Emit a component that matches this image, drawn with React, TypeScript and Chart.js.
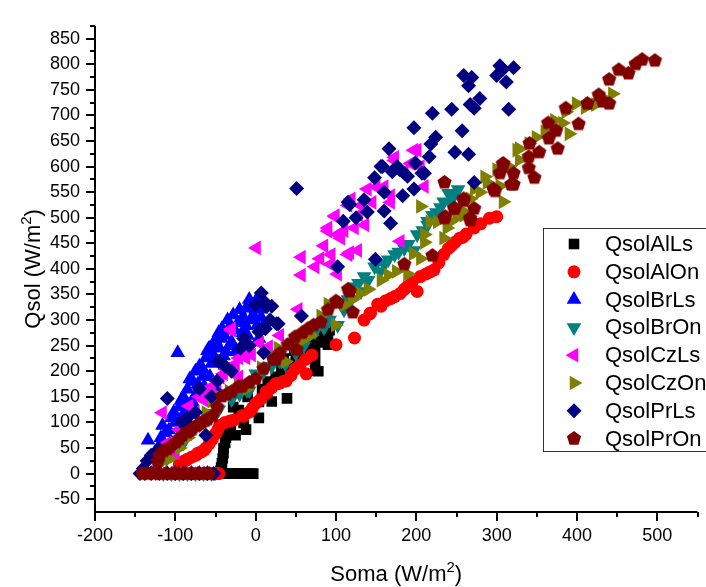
import React, { useEffect, useRef } from 'react';
import { Chart, registerables } from 'chart.js';

Chart.register(...registerables);

// ---- data (x = Soma, y = Qsol) ----
const xTicks = [-200, -100, 0, 100, 200, 300, 400, 500];
const yTicks = [-50, 0, 50, 100, 150, 200, 250, 300, 350, 400, 450, 500, 550, 600, 650, 700, 750, 800, 850];

const qsolAlLs: [number, number][] = [
  [-42, 0], [-38, 0], [-34, 0], [-30, 0], [-26, 0], [-22, 0], [-18, 0], [-14, 0], [-10, 0], [-6, 0], [-3, 0],
  [-44, 5], [-43, 12], [-42, 20], [-41, 30], [-40, 40], [-40, 50], [-38, 60], [-37, 70], [-36, 78], [-35, 85], [-33, 95],
  [-31, 86], [-25, 75], [-21, 124], [-17, 118], [-15, 99], [-12, 86], [4, 109], [4, 140], [20, 141], [25, 189], [28, 176],
  [32, 201], [39, 147], [41, 195], [41, 214], [45, 210], [50, 225], [55, 232], [62, 226], [62, 239], [68, 245], [74, 201],
  [74, 219], [74, 239], [78, 200], [78, 257], [81, 257], [81, 276], [84, 262], [88, 270], [90, 252], [90, 264], [92, 280], [86, 275],
  [-28, 130], [-10, 150], [8, 165], [15, 180], [35, 225], [58, 250], [66, 262], [48, 240],
];
const qsolAlOn: [number, number][] = [
  [-100, 0], [-95, 0], [-90, 0], [-85, 0], [-80, 0], [-75, 0], [-70, 0], [-65, 0], [-60, 0], [-55, 0], [-50, 0], [-46, 0],
  [-91, 23], [-85, 28], [-80, 32], [-74, 36], [-68, 42], [-62, 50], [-58, 58], [-54, 67], [-50, 78], [-47, 86], [-45, 94],
  [-38, 100], [-32, 103], [-27, 105], [-17, 113], [-15, 112], [-8, 120], [0, 137], [6, 145], [13, 160], [14, 157], [20, 168],
  [25, 176], [28, 176], [34, 180], [38, 181], [49, 204], [55, 212], [62, 223], [63, 195], [70, 232], [100, 252], [123, 265],
  [135, 300], [142, 312], [143, 314], [152, 331], [156, 327], [162, 338], [173, 346], [180, 352], [185, 360], [189, 366],
  [195, 375], [201, 356], [205, 385], [212, 390], [222, 398], [228, 412], [234, 428], [240, 440], [248, 452], [254, 460],
  [262, 468], [272, 480], [280, 488], [291, 499], [300, 502],
  [-95, 18], [-88, 25], [-72, 40], [-64, 46], [-4, 128], [44, 192], [168, 342], [217, 394], [244, 446], [258, 462],
];
const qsolBrLs: [number, number][] = [
  [-130, 0], [-120, 0], [-110, 0], [-100, 0], [-90, 0], [-80, 0], [-70, 0], [-60, 0],
  [-134, 65], [-126, 40], [-120, 55], [-116, 94], [-112, 80], [-105, 109], [-104, 109], [-100, 100], [-97, 236], [-95, 130],
  [-93, 143], [-90, 150], [-88, 120], [-85, 165], [-80, 140], [-79, 141], [-78, 180], [-75, 200], [-72, 175], [-70, 210],
  [-68, 160], [-65, 190], [-62, 226], [-60, 240], [-58, 245], [-55, 215], [-54, 251], [-50, 260], [-49, 166], [-49, 219],
  [-46, 275], [-43, 264], [-42, 283], [-40, 230], [-37, 238], [-35, 300], [-33, 286], [-30, 257], [-28, 310], [-25, 238],
  [-22, 295], [-20, 320], [-15, 305], [-12, 289], [-12, 323], [-10, 270], [-8, 340], [-5, 327], [-3, 310], [0, 321],
  [0, 337], [3, 257], [4, 264], [5, 345], [7, 305], [7, 321], [10, 290],
  [-128, 30], [-118, 70], [-108, 85], [-102, 120], [-92, 110], [-86, 135], [-82, 185], [-76, 150], [-66, 205], [-64, 170],
  [-57, 190], [-52, 230], [-45, 245], [-39, 270], [-32, 250], [-26, 280], [-18, 300], [-16, 275], [-6, 300], [2, 290],
];
const qsolBrOn: [number, number][] = [
  [-115, 0], [-105, 0], [-95, 0], [-85, 0], [-75, 0], [-65, 0], [-55, 0],
  [-111, 30], [-100, 45], [-90, 60], [-80, 80], [-70, 95], [-60, 110], [-46, 125], [-30, 145], [-11, 163], [-8, 162],
  [0, 195], [10, 200], [20, 210], [37, 214], [50, 235], [60, 250], [74, 277], [85, 285], [102, 290], [110, 320],
  [115, 340], [119, 340], [123, 365], [131, 356], [140, 378], [148, 404], [155, 395], [160, 409], [173, 428], [185, 440],
  [197, 436], [201, 467], [208, 475], [214, 486], [214, 493], [225, 510], [230, 520], [234, 531], [242, 530], [247, 543], [240, 548],
  [-120, 20], [-105, 38], [-52, 118], [-20, 155], [30, 220], [92, 300], [128, 372], [135, 385], [165, 418], [178, 433],
  [190, 448], [220, 505], [252, 555],
];
const qsolCzLs: [number, number][] = [
  [-105, 0], [-95, 0], [-85, 0], [-75, 0], [-65, 0], [-55, 0],
  [-116, 119], [-110, 60], [-100, 40], [-95, 86], [-90, 100], [-83, 132], [-75, 120], [-70, 150], [-64, 143], [-55, 170],
  [-48, 180], [-40, 195], [-37, 204], [-33, 207], [-30, 280], [-30, 283], [-25, 214], [-21, 189], [-21, 226], [-12, 226],
  [-5, 232], [1, 441], [16, 245], [16, 248], [30, 270], [53, 321], [57, 388], [57, 423], [74, 404], [90, 474], [90, 480],
  [93, 409], [94, 428], [99, 502], [99, 504], [102, 390], [102, 467], [106, 460], [115, 428], [115, 524], [117, 432],
  [119, 537], [123, 480], [127, 436], [131, 524], [136, 486], [139, 556], [160, 561], [168, 530], [168, 543], [173, 612],
  [173, 618], [180, 454], [193, 606], [197, 632], [201, 632], [210, 561],
  [-60, 160], [-44, 188], [-15, 240], [5, 255], [80, 420], [85, 445], [110, 475], [128, 505], [145, 530], [150, 560],
  [185, 590], [205, 600],
];
const qsolCzOn: [number, number][] = [
  [-120, 0], [-110, 0], [-100, 0], [-90, 0], [-80, 0], [-70, 0], [-60, 0],
  [-120, 20], [-107, 29], [-95, 50], [-85, 70], [-75, 90], [-62, 119], [-54, 142], [-45, 150], [-33, 161], [-11, 166],
  [7, 204], [7, 207], [20, 230], [28, 245], [37, 219], [50, 255], [69, 270], [81, 308], [90, 331], [99, 290], [120, 340],
  [140, 360], [156, 378], [175, 395], [189, 390], [205, 420], [205, 522], [210, 452], [210, 467], [217, 492], [226, 492],
  [234, 460], [238, 480], [242, 492], [259, 505], [259, 512], [267, 537], [272, 556], [279, 550], [288, 569], [300, 594],
  [304, 562], [308, 531], [325, 632], [328, 613], [328, 635], [349, 657], [382, 685], [386, 707], [390, 664], [399, 723],
  [423, 721], [444, 742],
  [-22, 172], [60, 262], [110, 330], [130, 352], [165, 388], [196, 430], [250, 500], [285, 580], [315, 600], [340, 645],
  [360, 668], [372, 690], [410, 715], [432, 735],
];
const qsolPrLs: [number, number][] = [
  [-144, 0], [-138, 0], [-130, 0], [-120, 0], [-110, 0], [-100, 0], [-90, 0], [-80, 0], [-70, 0], [-60, 0], [-52, 0],
  [-140, 10], [-135, 25], [-130, 36], [-120, 48], [-110, 147], [-100, 60], [-85, 109], [-80, 90], [-70, 166], [-62, 75],
  [-55, 150], [-48, 181], [-46, 219], [-30, 200], [-19, 245], [-15, 264], [4, 277], [6, 280], [7, 353], [10, 236],
  [12, 283], [12, 334], [14, 327], [20, 327], [26, 293], [28, 293], [51, 557], [57, 308], [102, 404], [109, 493],
  [115, 530], [117, 526], [139, 511], [148, 578], [149, 419], [156, 600], [158, 600], [160, 513], [160, 550], [166, 635],
  [168, 489], [179, 594], [183, 543], [185, 587], [189, 581], [197, 556], [197, 676], [199, 607], [207, 587], [210, 587],
  [216, 619], [218, 644], [220, 704], [224, 657], [244, 712], [248, 628], [257, 670], [259, 778], [265, 624], [265, 758],
  [267, 721], [269, 774], [272, 569], [272, 714], [279, 733], [300, 778], [304, 797], [308, 790], [312, 765], [315, 712], [321, 793],
  [-125, 40], [-92, 100], [-75, 120], [-38, 210], [-8, 250], [0, 330], [18, 300], [125, 500], [135, 535], [170, 590], [176, 600],
];
const qsolPrOn: [number, number][] = [
  [-141, 0], [-135, 0], [-128, 0], [-120, 0], [-112, 0], [-104, 0], [-96, 0], [-88, 0], [-80, 0], [-72, 0], [-64, 0], [-58, 0],
  [-122, 23], [-120, 36], [-115, 44], [-107, 52], [-99, 62], [-91, 75], [-85, 81], [-79, 87], [-73, 94], [-67, 100],
  [-60, 106], [-54, 112], [-48, 130], [-42, 151], [-30, 160], [-21, 170], [-17, 170], [0, 185], [10, 205], [22, 223],
  [25, 223], [40, 252], [49, 267], [51, 242], [65, 283], [72, 290], [81, 296], [100, 337], [102, 334], [115, 360],
  [117, 356], [121, 315], [185, 409], [220, 426], [235, 499], [235, 569], [236, 502], [247, 518], [248, 518], [259, 533],
  [259, 537], [267, 495], [267, 499], [272, 518], [296, 556], [298, 552], [304, 587], [308, 604], [308, 606], [318, 565],
  [321, 565], [321, 587], [340, 597], [340, 619], [341, 645], [347, 578], [353, 628], [364, 685], [365, 655], [374, 670],
  [376, 635], [386, 714], [402, 683], [413, 723], [427, 740], [432, 727], [440, 723], [440, 770], [452, 789], [464, 782],
  [473, 800], [481, 809], [497, 807],
  [-110, 48], [-95, 68], [-82, 84], [-70, 97], [-63, 103], [-36, 155], [-8, 178], [30, 235], [58, 275], [90, 320],
];

const seriesLabels = ['QsolAlLs', 'QsolAlOn', 'QsolBrLs', 'QsolBrOn', 'QsolCzLs', 'QsolCzOn', 'QsolPrLs', 'QsolPrOn'];
const seriesData = [qsolAlLs, qsolAlOn, qsolBrLs, qsolBrOn, qsolCzLs, qsolCzOn, qsolPrLs, qsolPrOn];

// ---- styles ----
const FONT = "'Liberation Sans', Arial, Helvetica, sans-serif";
const markerStyles = [
  { color: '#000000', shape: 'rect', radius: 7.5, rotation: 0 },
  { color: '#ff0000', shape: 'circle', radius: 6.5, rotation: 0 },
  { color: '#0000ff', shape: 'triangle', radius: 8.5, rotation: 0 },
  { color: '#008080', shape: 'triangle', radius: 8.5, rotation: 180 },
  { color: '#ff00ff', shape: 'triangle', radius: 8.5, rotation: -90 },
  { color: '#808000', shape: 'triangle', radius: 8.5, rotation: 90 },
  { color: '#000080', shape: 'rectRot', radius: 7.5, rotation: 0 },
  { color: '#800000', shape: 'pentagon', radius: 7.5, rotation: 0 },
];

function makePentagon(color: string, r: number): HTMLCanvasElement {
  const s = Math.ceil(r * 2 + 2);
  const c = document.createElement('canvas');
  c.width = s;
  c.height = s;
  const ctx = c.getContext('2d')!;
  ctx.fillStyle = color;
  ctx.beginPath();
  for (let i = 0; i < 5; i++) {
    const a = -Math.PI / 2 + (i * 2 * Math.PI) / 5;
    ctx.lineTo(s / 2 + r * Math.cos(a), s / 2 + r * Math.sin(a));
  }
  ctx.closePath();
  ctx.fill();
  return c;
}

function drawMarker(ctx: CanvasRenderingContext2D, shape: string, x: number, y: number, r: number, rot: number, color: string) {
  ctx.save();
  ctx.fillStyle = color;
  ctx.beginPath();
  if (shape === 'circle') {
    ctx.arc(x, y, r, 0, Math.PI * 2);
  } else if (shape === 'rect') {
    const s = r * Math.SQRT1_2;
    ctx.rect(x - s, y - s, 2 * s, 2 * s);
  } else if (shape === 'rectRot') {
    ctx.moveTo(x, y - r);
    ctx.lineTo(x + r, y);
    ctx.lineTo(x, y + r);
    ctx.lineTo(x - r, y);
  } else if (shape === 'triangle') {
    let rad = (rot * Math.PI) / 180;
    for (let i = 0; i < 3; i++) {
      ctx.lineTo(x + Math.sin(rad) * r, y - Math.cos(rad) * r);
      rad += (2 * Math.PI) / 3;
    }
  } else if (shape === 'pentagon') {
    for (let i = 0; i < 5; i++) {
      const a = -Math.PI / 2 + (i * 2 * Math.PI) / 5;
      ctx.lineTo(x + r * Math.cos(a), y + r * Math.sin(a));
    }
  }
  ctx.closePath();
  ctx.fill();
  ctx.restore();
}

function drawTitle(ctx: CanvasRenderingContext2D, main: string, tail: string, cx: number, baseY: number) {
  ctx.font = `22px ${FONT}`;
  const w1 = ctx.measureText(main).width;
  const w3 = ctx.measureText(tail).width;
  ctx.font = `15px ${FONT}`;
  const w2 = ctx.measureText('2').width;
  const total = w1 + w2 + w3;
  let x = cx - total / 2;
  ctx.fillStyle = '#000';
  ctx.textBaseline = 'alphabetic';
  ctx.textAlign = 'left';
  ctx.font = `22px ${FONT}`;
  ctx.fillText(main, x, baseY);
  x += w1;
  ctx.font = `15px ${FONT}`;
  ctx.fillText('2', x, baseY - 9);
  x += w2;
  ctx.font = `22px ${FONT}`;
  ctx.fillText(tail, x, baseY);
}

const decorPlugin = {
  id: 'decor',
  afterDraw(chart: any) {
    const ctx: CanvasRenderingContext2D = chart.ctx;
    const xs = chart.scales.x;
    const ys = chart.scales.y;
    const area = chart.chartArea;
    ctx.save();
    ctx.strokeStyle = '#000';
    ctx.lineWidth = 2;
    ctx.beginPath();
    ctx.moveTo(area.left, area.top);
    ctx.lineTo(area.left, area.bottom + 1);
    ctx.moveTo(area.left - 1, area.bottom);
    ctx.lineTo(area.right, area.bottom);
    ctx.stroke();
    ctx.beginPath();
    for (const v of xTicks) {
      const px = Math.round(xs.getPixelForValue(v));
      ctx.moveTo(px, area.bottom);
      ctx.lineTo(px, area.bottom + 9);
    }
    for (let v = xs.min + 50; v <= xs.max; v += 100) {
      const px = Math.round(xs.getPixelForValue(v));
      ctx.moveTo(px, area.bottom);
      ctx.lineTo(px, area.bottom + 5);
    }
    for (const v of yTicks) {
      const py = Math.round(ys.getPixelForValue(v));
      ctx.moveTo(area.left, py);
      ctx.lineTo(area.left - 9, py);
    }
    for (let v = ys.min + 50; v <= ys.max; v += 50) {
      const py = Math.round(ys.getPixelForValue(v));
      ctx.moveTo(area.left, py);
      ctx.lineTo(area.left - 5, py);
    }
    ctx.stroke();

    drawTitle(ctx, 'Soma (W/m', ')', (area.left + area.right) / 2, 581);
    ctx.save();
    ctx.translate(40, (area.top + area.bottom) / 2);
    ctx.rotate(-Math.PI / 2);
    drawTitle(ctx, 'Qsol (W/m', ')', 0, 0);
    ctx.restore();

    const lx = 543.5;
    const ly = 228.5;
    ctx.fillStyle = '#fff';
    ctx.fillRect(lx, ly, 200, 223);
    ctx.strokeStyle = '#333';
    ctx.lineWidth = 1;
    ctx.strokeRect(lx, ly, 200, 223);
    ctx.font = `22px ${FONT}`;
    ctx.textBaseline = 'middle';
    ctx.textAlign = 'left';
    seriesLabels.forEach((label, i) => {
      const cy = 244 + i * 27.8;
      const st = markerStyles[i];
      drawMarker(ctx, st.shape, 574, cy, st.radius, st.rotation, st.color);
      ctx.fillStyle = '#000';
      ctx.fillText(label, 605, cy + 1);
    });
    ctx.restore();
  },
};

export default function App() {
  const canvasRef = useRef<HTMLCanvasElement | null>(null);

  useEffect(() => {
    const canvas = canvasRef.current;
    if (!canvas) return;
    const datasets = seriesLabels.map((label, i) => {
      const st = markerStyles[i];
      return {
        label,
        data: seriesData[i].map(([x, y]) => ({ x, y })),
        pointStyle: st.shape === 'pentagon' ? makePentagon(st.color, st.radius) : st.shape,
        pointRadius: st.radius,
        pointRotation: st.rotation,
        pointBackgroundColor: st.color,
        pointBorderColor: st.color,
        pointBorderWidth: 0,
        pointHoverRadius: st.radius,
        showLine: false,
        order: seriesLabels.length - i,
      };
    });
    const chart = new Chart(canvas, {
      type: 'scatter',
      data: { datasets } as any,
      options: {
        responsive: false,
        animation: false,
        events: [],
        layout: { padding: { left: 0, top: 12, right: 4, bottom: 0 } },
        plugins: { legend: { display: false }, tooltip: { enabled: false } },
        scales: {
          x: {
            type: 'linear',
            min: -200,
            max: 550,
            afterFit: (s: any) => { s.height = 75; },
            afterBuildTicks: (s: any) => { s.ticks = xTicks.map((v) => ({ value: v })); },
            grid: { display: false, drawTicks: false },
            border: { display: false },
            ticks: {
              padding: 13,
              color: '#000',
              maxRotation: 0,
              font: { family: FONT, size: 18 },
            },
          },
          y: {
            type: 'linear',
            min: -75,
            max: 875,
            afterFit: (s: any) => { s.width = 95; },
            afterBuildTicks: (s: any) => { s.ticks = yTicks.map((v) => ({ value: v })); },
            grid: { display: false, drawTicks: false },
            border: { display: false },
            ticks: {
              padding: 15,
              color: '#000',
              font: { family: FONT, size: 18 },
            },
          },
        },
      } as any,
      plugins: [decorPlugin],
    });
    return () => chart.destroy();
  }, []);

  return (
    <div style={{ position: 'fixed', left: 0, top: 0, width: 706, height: 587, background: '#fff' }}>
      <canvas ref={canvasRef} width={706} height={587} style={{ width: 706, height: 587 }} />
    </div>
  );
}
